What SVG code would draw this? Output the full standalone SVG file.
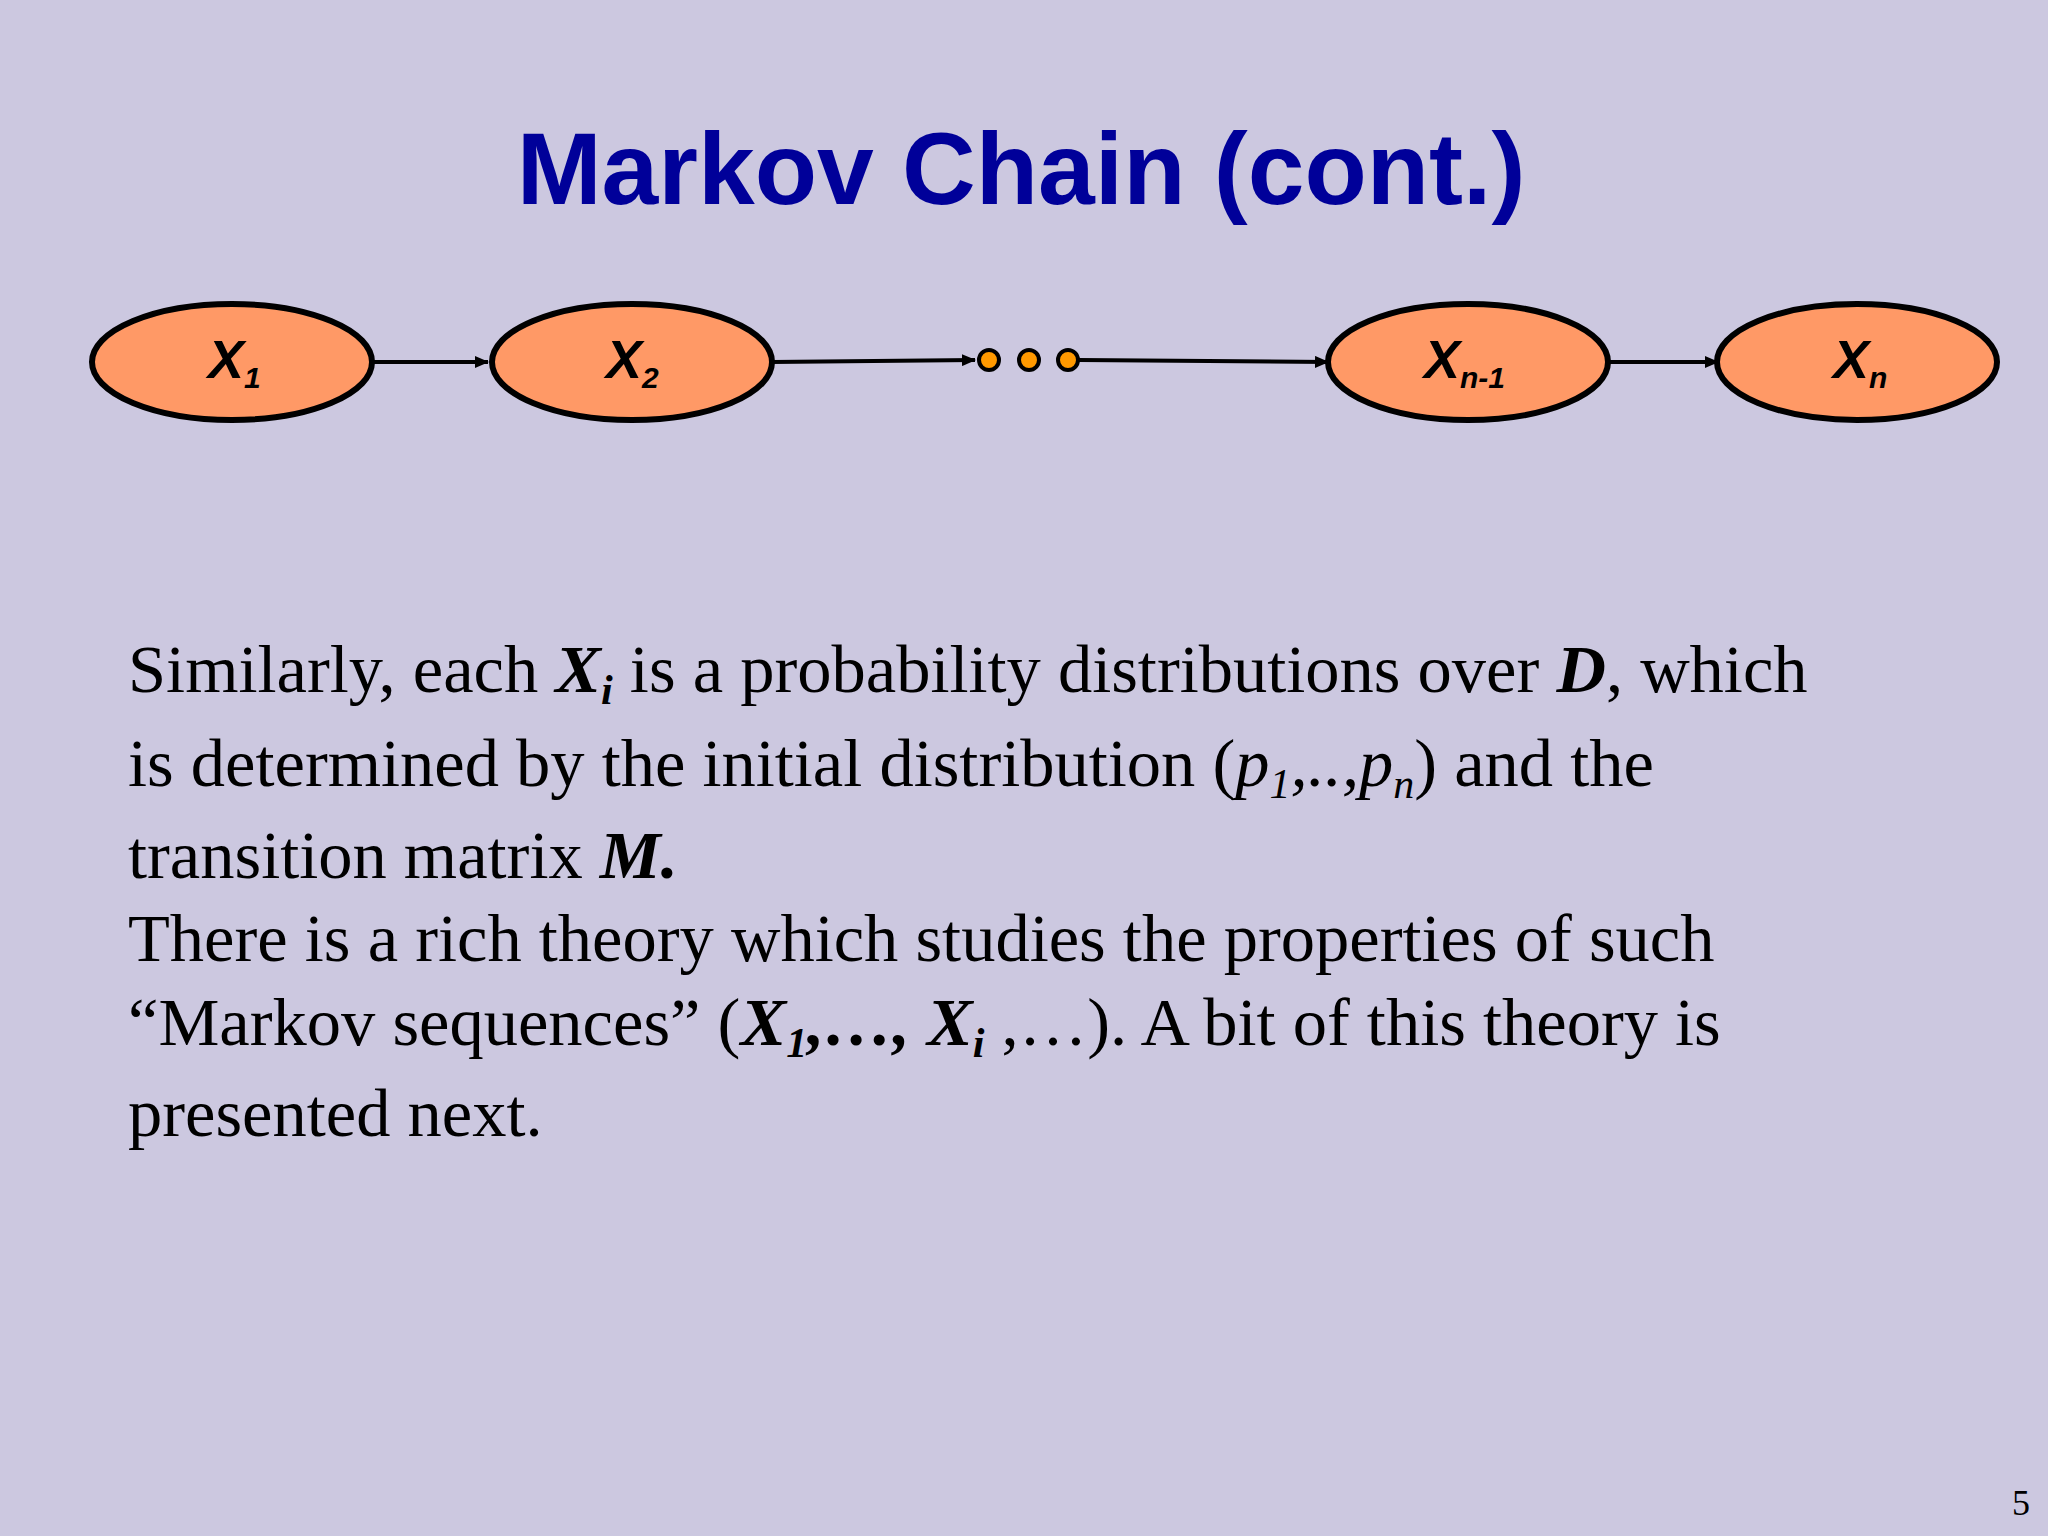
<svg xmlns="http://www.w3.org/2000/svg" width="2048" height="1536" viewBox="0 0 2048 1536">
<style>
.n{fill:#FF9966;stroke:#000;stroke-width:6}
.l{font-family:"Liberation Sans",Arial,sans-serif;font-weight:bold;font-style:italic;font-size:54px;fill:#000}
.s{font-size:30px}
.e{stroke:#000;stroke-width:4;fill:none;marker-end:url(#a)}
.b{font-family:"Liberation Serif","Times New Roman",serif;font-size:68.5px;fill:#000}
.d{fill:#FF9900;stroke:#000;stroke-width:4}
</style>
<defs><marker id="a" markerWidth="14" markerHeight="12" refX="13" refY="6" orient="auto" markerUnits="userSpaceOnUse"><path d="M0,0L14,6L0,12z" fill="#000"/></marker></defs>
<rect width="2048" height="1536" fill="#CCC8E0"/>
<text x="1021" y="204" text-anchor="middle" font-family="Liberation Sans,Arial,sans-serif" font-weight="bold" font-size="102" fill="#000099">Markov Chain (cont.)</text>
<g id="connectors">
<line class="e" x1="372" y1="362" x2="488" y2="362"/>
<line class="e" x1="772" y1="362" x2="975" y2="360"/>
<line class="e" x1="1079" y1="360" x2="1328" y2="362"/>
<line class="e" x1="1608" y1="362" x2="1718" y2="362"/>
</g>
<g id="x1"><ellipse class="n" cx="232" cy="362" rx="140" ry="58"/><text class="l" x="208" y="378">X<tspan class="s" dy="10">1</tspan></text></g>
<g id="x2"><ellipse class="n" cx="632" cy="362" rx="140" ry="58"/><text class="l" x="606" y="378">X<tspan class="s" dy="10">2</tspan></text></g>
<g id="dots"><circle class="d" cx="989" cy="360" r="10"/><circle class="d" cx="1029" cy="360" r="10"/><circle class="d" cx="1068" cy="360" r="10"/></g>
<g id="xn1"><ellipse class="n" cx="1468" cy="362" rx="140" ry="58"/><text class="l" x="1424" y="378">X<tspan class="s" dy="10">n-1</tspan></text></g>
<g id="xn"><ellipse class="n" cx="1857" cy="362" rx="140" ry="58"/><text class="l" x="1833" y="378">X<tspan class="s" dy="10">n</tspan></text></g>
<text class="b" x="128" y="692">Similarly, each <tspan font-weight="bold" font-style="italic">X<tspan font-size="42" dy="12">i</tspan></tspan><tspan dy="-12"> is a probability distributions over </tspan><tspan font-weight="bold" font-style="italic">D</tspan>, which</text>
<text class="b" x="128" y="786">is determined by the initial distribution (<tspan font-style="italic">p<tspan font-size="42" dy="12">1</tspan><tspan dy="-12">,..,p</tspan><tspan font-size="42" dy="12">n</tspan></tspan><tspan dy="-12">) and the</tspan></text>
<text class="b" x="128" y="878">transition matrix <tspan font-weight="bold" font-style="italic">M.</tspan></text>
<text class="b" x="128" y="961">There is a rich theory which studies the properties of such</text>
<text class="b" x="128" y="1045">“Markov sequences” (<tspan font-weight="bold" font-style="italic">X<tspan font-size="42" dy="12">1</tspan><tspan dy="-12">,…, X</tspan><tspan font-size="42" dy="12">i</tspan></tspan><tspan dy="-12"> ,…). A bit of this theory is</tspan></text>
<text class="b" x="128" y="1136">presented next.</text>
<text x="2030" y="1515" text-anchor="end" font-family="Liberation Serif,serif" font-size="36" fill="#000">5</text>
</svg>
